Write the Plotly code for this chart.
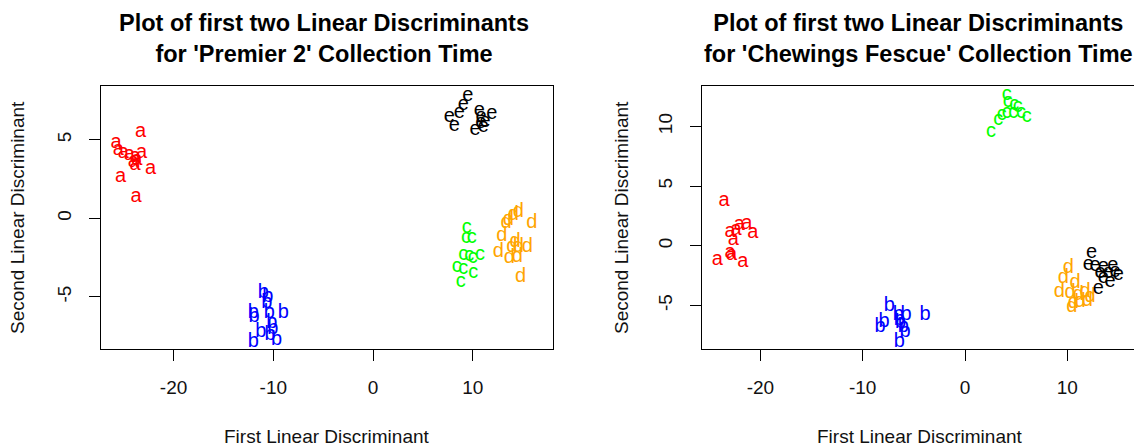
import plotly.graph_objects as go

# ---------------- data: left panel ("Premier 2") ----------------
p_a_x = [-23.30, -25.78, -25.55, -25.05, -24.44, -23.87, -23.20, -24.04, -23.70, -23.87, -22.30, -25.31, -23.77]
p_a_y = [5.52, 4.82, 4.35, 4.18, 4.03, 3.92, 4.18, 3.61, 3.71, 3.39, 3.12, 2.61, 1.34]
p_b_x = [-11.00, -10.56, -10.66, -12.01, -11.94, -10.40, -9.00, -10.16, -10.06, -11.26, -10.33, -12.01, -9.66]
p_b_y = [-4.78, -4.99, -5.41, -6.05, -6.29, -6.05, -6.01, -6.65, -7.07, -7.22, -7.43, -7.86, -7.75]
p_c_x = [9.40, 9.33, 9.90, 9.06, 9.66, 10.00, 10.73, 8.40, 9.06, 10.06, 8.80]
p_c_y = [-0.64, -1.24, -1.27, -2.34, -2.38, -2.51, -2.34, -3.08, -3.23, -3.50, -4.08]
p_d_x = [14.57, 14.07, 13.57, 13.34, 15.92, 12.91, 14.24, 13.91, 14.57, 15.48, 12.57, 13.67, 14.47, 14.81]
p_d_y = [0.42, 0.21, -0.11, -0.32, -0.32, -1.11, -1.49, -1.81, -1.81, -1.81, -2.13, -2.51, -2.45, -3.72]
p_e_x = [9.50, 9.06, 8.66, 7.65, 8.15, 10.66, 10.83, 11.91, 11.23, 10.80, 10.23, 11.06]
p_e_y = [7.79, 7.22, 6.69, 6.43, 5.90, 6.85, 6.43, 6.62, 6.15, 6.05, 5.62, 5.83]

# ---------------- data: right panel ("Chewings Fescue") ----------------
c_a_x = [-23.56, -22.97, -22.06, -21.34, -20.75, -22.65, -22.81, -22.97, -24.21, -21.73, -22.39]
c_a_y = [3.77, 1.17, 1.74, 1.82, 1.09, 0.48, -0.78, -0.64, -1.20, -1.34, 1.32]
c_b_x = [-7.40, -7.92, -8.31, -6.52, -5.77, -6.29, -6.03, -6.42, -5.87, -6.42, -3.91]
c_b_y = [-5.05, -6.37, -6.84, -5.81, -5.81, -6.50, -6.79, -6.23, -7.21, -8.05, -5.81]
c_c_x = [4.08, 4.17, 4.82, 5.15, 3.59, 4.08, 4.72, 5.47, 6.03, 3.26, 2.54]
c_c_y = [12.63, 12.07, 11.79, 11.60, 10.96, 11.10, 11.10, 11.10, 10.81, 10.54, 9.56]
c_d_x = [10.10, 9.61, 10.75, 9.22, 10.26, 11.08, 11.73, 12.22, 10.59, 11.24, 11.96, 10.43]
c_d_y = [-1.89, -2.73, -3.15, -3.86, -3.99, -4.13, -3.86, -4.27, -4.83, -4.69, -4.61, -5.11]
c_e_x = [12.38, 12.05, 12.71, 13.52, 14.44, 14.66, 13.20, 14.01, 14.17, 14.99, 13.03, 13.52]
c_e_y = [-0.59, -1.62, -1.70, -1.76, -1.70, -2.18, -2.31, -2.31, -3.02, -2.46, -3.65, -2.73]

group_letters = ["a", "b", "c", "d", "e"]
group_colors = ["#FF0000", "#0000FF", "#00FF00", "#FFA500", "#000000"]

left_x_ticks = [-20, -10, 0, 10]
left_x_labels = ["-20", "-10", "0", "10"]
left_y_ticks = [-5, 0, 5]
left_y_labels = ["-5", "0", "5"]
right_x_ticks = [-20, -10, 0, 10]
right_x_labels = ["-20", "-10", "0", "10"]
right_y_ticks = [-5, 0, 5, 10]
right_y_labels = ["-5", "0", "5", "10"]

titles = ["Plot of first two Linear Discriminants<br>for 'Premier 2' Collection Time",
          "Plot of first two Linear Discriminants<br>for 'Chewings Fescue' Collection Time"]
x_title = "First Linear Discriminant"
y_title = "Second Linear Discriminant"

FONT = "Liberation Sans, Arial, sans-serif"
W, H = 1134, 448

fig = go.Figure()

left_sets = [(p_a_x, p_a_y), (p_b_x, p_b_y), (p_c_x, p_c_y), (p_d_x, p_d_y), (p_e_x, p_e_y)]
right_sets = [(c_a_x, c_a_y), (c_b_x, c_b_y), (c_c_x, c_c_y), (c_d_x, c_d_y), (c_e_x, c_e_y)]

for sets, xa, ya in [(left_sets, "x", "y"), (right_sets, "x2", "y2")]:
    for (xs, ys), letter, col in zip(sets, group_letters, group_colors):
        fig.add_trace(go.Scatter(
            x=xs, y=ys, mode="text", text=[letter] * len(xs),
            textposition="middle center",
            textfont=dict(family=FONT, size=20, color=col),
            xaxis=xa, yaxis=ya, showlegend=False, hoverinfo="skip",
        ))

# plot-area pixel boxes
L_x0, L_x1 = 100.8, 552.7
R_x0 = 701.7
P_y0, P_y1 = 86, 349.3

ydom = [1 - P_y1 / H, 1 - P_y0 / H]

axis_common = dict(
    showgrid=False, zeroline=False, showline=True, linecolor="black", linewidth=1.3,
    ticks="outside", ticklen=11, tickwidth=1.3, tickcolor="black",
    tickfont=dict(family=FONT, size=19, color="#111111"),
)

fig.update_layout(
    width=W, height=H,
    margin=dict(l=0, r=0, t=0, b=0),
    paper_bgcolor="white", plot_bgcolor="white",
    xaxis=dict(domain=[L_x0 / W, L_x1 / W], range=[-27.3, 18.02],
               tickvals=left_x_ticks, ticktext=left_x_labels,
               mirror=True, anchor="y", ticklabelstandoff=10, **axis_common),
    yaxis=dict(domain=ydom, range=[-8.34, 8.43], tickvals=left_y_ticks, ticktext=left_y_labels,
               tickangle=-90, mirror=True, anchor="x", ticklabelstandoff=10, **axis_common),
    xaxis2=dict(domain=[R_x0 / W, 1.0], range=[-25.74, 16.52],
                tickvals=right_x_ticks, ticktext=right_x_labels,
                mirror=True, anchor="y2", ticklabelstandoff=10, **axis_common),
    yaxis2=dict(domain=ydom, range=[-8.68, 13.39], tickvals=right_y_ticks, ticktext=right_y_labels,
                tickangle=-90, mirror=False, anchor="x2", ticklabelstandoff=10, **axis_common),
)

annotations = []
for cx, t in [(324, titles[0]), (918, titles[1])]:
    annotations.append(dict(text="<b>" + t + "</b>", x=cx / W, y=1 - 39 / H, xref="paper", yref="paper",
                            xanchor="center", yanchor="middle", showarrow=False,
                            font=dict(family=FONT, size=23.5, color="black")))
for cx in [326.7, 920]:
    annotations.append(dict(text=x_title, x=cx / W, y=1 - 436 / H, xref="paper", yref="paper",
                            xanchor="center", yanchor="middle", showarrow=False,
                            font=dict(family=FONT, size=19, color="#111111")))
for cx in [18, 622]:
    annotations.append(dict(text=y_title, x=cx / W, y=1 - 218 / H, xref="paper", yref="paper",
                            xanchor="center", yanchor="middle", showarrow=False, textangle=-90,
                            font=dict(family=FONT, size=19, color="#111111")))
fig.update_layout(annotations=annotations)

fig.write_html("out.html", config={"displayModeBar": False},
               post_script="document.body.style.margin='0px';")
